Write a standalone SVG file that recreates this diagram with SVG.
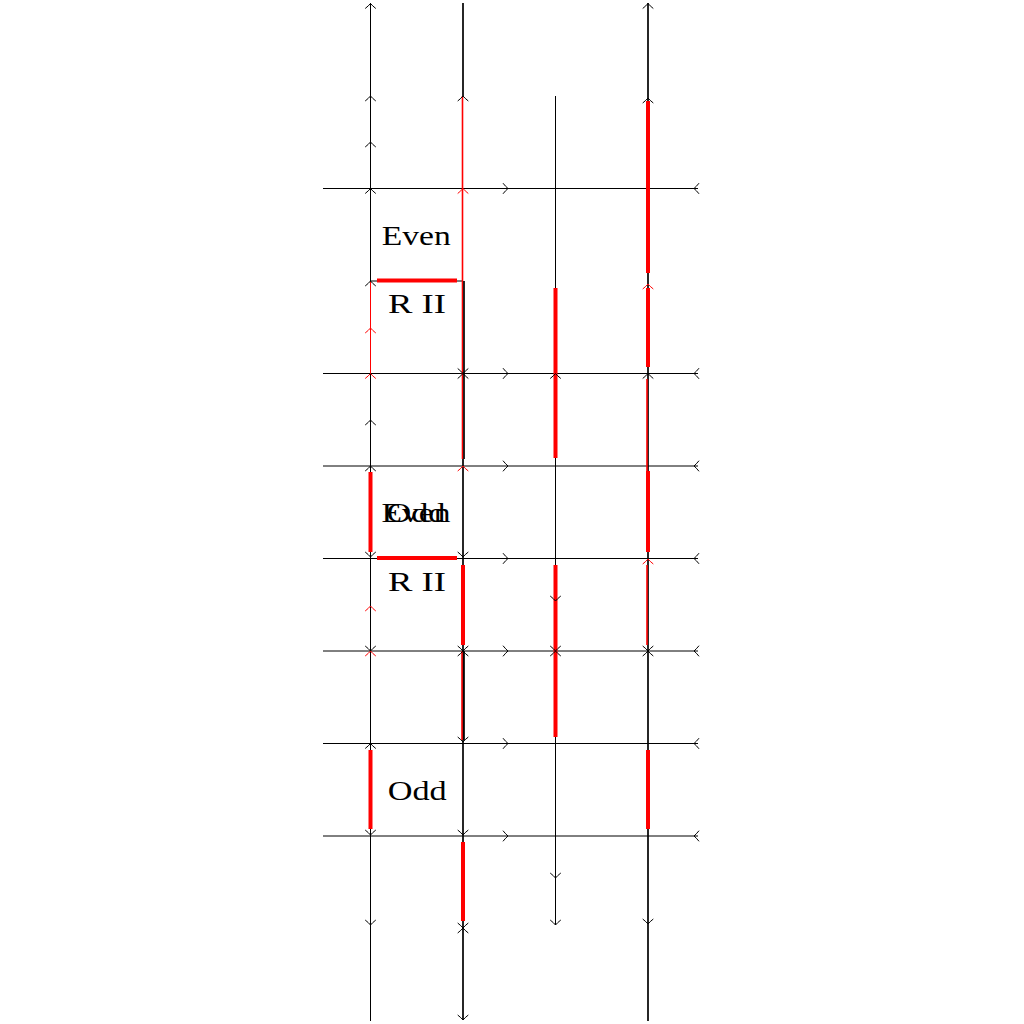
<svg xmlns="http://www.w3.org/2000/svg" xmlns:xlink="http://www.w3.org/1999/xlink" width="1024" height="1024" viewBox="0 0 1024 1024">
<style>
.k{stroke:#000;stroke-width:1;fill:none}
.kt{stroke:#000;stroke-width:1.7;fill:none}
.r{stroke:#f00;stroke-width:1;fill:none}
.rt{stroke:#f00;stroke-width:4;fill:none}
.rm{stroke:#f00;stroke-width:1.6;fill:none}
.lbl{font-family:"Liberation Serif","Times New Roman",serif;font-size:27px;fill:#000;text-anchor:middle}
</style>
<defs>
<path id="au" d="M-5.3,5 Q-1.8,2.2 0,0 Q1.8,2.2 5.3,5"/>
<path id="ad" d="M-5.3,-5 Q-1.8,-2.2 0,0 Q1.8,-2.2 5.3,-5"/>
<path id="ar" d="M-5,-5.3 Q-2.2,-1.8 0,0 Q-2.2,1.8 -5,5.3"/>
<path id="al" d="M5,-5.3 Q2.2,-1.8 0,0 Q2.2,1.8 5,5.3"/>
</defs>
<rect width="1024" height="1024" fill="#fff"/>
<g id="connectors">
<!-- horizontal rows -->
<g id="rows" class="k">
<line x1="323" y1="188.5" x2="698" y2="188.5"/>
<line x1="323" y1="373.5" x2="698" y2="373.5"/>
<line x1="323" y1="466" x2="698" y2="466"/>
<line x1="323" y1="558.5" x2="698" y2="558.5"/>
<line x1="323" y1="651" x2="698" y2="651"/>
<line x1="323" y1="743.5" x2="698" y2="743.5"/>
<line x1="323" y1="836" x2="698" y2="836"/>
</g>
<g id="row-arrows" class="k">
<use xlink:href="#ar" x="508" y="188.5"/><use xlink:href="#al" x="694" y="188.5"/>
<use xlink:href="#ar" x="508" y="373.5"/><use xlink:href="#al" x="694" y="373.5"/>
<use xlink:href="#ar" x="508" y="466"/><use xlink:href="#al" x="694" y="466"/>
<use xlink:href="#ar" x="508" y="558.5"/><use xlink:href="#al" x="694" y="558.5"/>
<use xlink:href="#ar" x="508" y="651"/><use xlink:href="#al" x="694" y="651"/>
<use xlink:href="#ar" x="508" y="743.5"/><use xlink:href="#al" x="694" y="743.5"/>
<use xlink:href="#ar" x="508" y="836"/><use xlink:href="#al" x="694" y="836"/>
</g>
<!-- column A -->
<g id="colA">
<line class="k" x1="370.5" y1="3" x2="370.5" y2="1021"/>
<line class="r" x1="370.5" y1="281" x2="370.5" y2="373.5"/>
<line class="k" x1="370.5" y1="281" x2="463" y2="281"/>
<line class="rt" x1="370.5" y1="472" x2="370.5" y2="552"/>
<line class="rt" x1="370.5" y1="750" x2="370.5" y2="829"/>
<use class="k" xlink:href="#au" x="370.5" y="3.5"/>
<use class="k" xlink:href="#au" x="370.5" y="96"/>
<use class="k" xlink:href="#au" x="370.5" y="142"/>
<use class="k" xlink:href="#au" x="370.5" y="188.5"/>
<use class="k" xlink:href="#au" x="370.5" y="281"/>
<use class="r" xlink:href="#au" x="370.5" y="328"/>
<use class="r" xlink:href="#au" x="370.5" y="373.5"/>
<use class="k" xlink:href="#au" x="370.5" y="420"/>
<use class="k" xlink:href="#au" x="370.5" y="466"/>
<use class="k" xlink:href="#ad" x="370.5" y="557"/>
<use class="r" xlink:href="#au" x="370.5" y="606"/>
<use class="k" xlink:href="#ad" x="370.5" y="651"/>
<use class="r" xlink:href="#au" x="370.5" y="651"/>
<use class="k" xlink:href="#au" x="370.5" y="743.5"/>
<use class="k" xlink:href="#ad" x="370.5" y="835"/>
<use class="k" xlink:href="#ad" x="370.5" y="925"/>
</g>
<!-- column B -->
<g id="colB">
<line class="kt" x1="463" y1="3" x2="463" y2="96"/>
<line class="rm" x1="462.5" y1="96" x2="462.5" y2="459"/>
<line class="kt" x1="464" y1="281" x2="464" y2="459"/>
<line class="kt" x1="463" y1="459" x2="463" y2="1020"/>
<line class="rt" x1="377" y1="280.5" x2="457" y2="280.5"/>
<line class="rt" x1="377" y1="558" x2="457" y2="558"/>
<line class="rt" x1="463" y1="565" x2="463" y2="645"/>
<line class="kt" x1="464" y1="651" x2="464" y2="740"/>
<line class="rm" x1="462" y1="651" x2="462" y2="740"/>
<line class="rt" x1="463" y1="842" x2="463" y2="921"/>
<use class="k" xlink:href="#au" x="463" y="96"/>
<use class="r" xlink:href="#au" x="463" y="188.5"/>
<use class="k" xlink:href="#ad" x="463" y="373.5"/>
<use class="k" xlink:href="#au" x="463" y="373.5"/>
<use class="r" xlink:href="#au" x="463" y="466"/>
<use class="k" xlink:href="#ad" x="463" y="557"/>
<use class="k" xlink:href="#ad" x="463" y="651"/>
<use class="k" xlink:href="#au" x="463" y="651"/>
<use class="k" xlink:href="#ad" x="463" y="742"/>
<use class="k" xlink:href="#ad" x="463" y="835"/>
<use class="k" xlink:href="#ad" x="463" y="928"/>
<use class="k" xlink:href="#au" x="463" y="928"/>
<use class="k" xlink:href="#ad" x="463" y="1020"/>
</g>
<!-- column C -->
<g id="colC">
<line class="k" x1="555.5" y1="96" x2="555.5" y2="925"/>
<line class="rt" x1="555.5" y1="288" x2="555.5" y2="458"/>
<line class="rt" x1="555.5" y1="565" x2="555.5" y2="737"/>
<use class="k" xlink:href="#au" x="555.5" y="373.5"/>
<use class="k" xlink:href="#ad" x="555.5" y="601"/>
<use class="k" xlink:href="#ad" x="555.5" y="651"/>
<use class="k" xlink:href="#au" x="555.5" y="651"/>
<use class="k" xlink:href="#ad" x="555.5" y="878"/>
<use class="k" xlink:href="#ad" x="555.5" y="925"/>
</g>
<!-- column D -->
<g id="colD">
<line class="kt" x1="648" y1="3" x2="648" y2="1021"/>
<line class="rt" x1="648" y1="101" x2="648" y2="273"/>
<line class="rt" x1="648" y1="288" x2="648" y2="367"/>
<line class="rm" x1="647" y1="379" x2="647" y2="471"/>
<line class="rt" x1="648" y1="471" x2="648" y2="552"/>
<line class="rm" x1="647" y1="565" x2="647" y2="645"/>
<line class="rt" x1="648" y1="750" x2="648" y2="829"/>
<use class="k" xlink:href="#au" x="648" y="3.5"/>
<use class="k" xlink:href="#au" x="648" y="98"/>
<use class="r" xlink:href="#au" x="648" y="284"/>
<use class="k" xlink:href="#au" x="648" y="373.5"/>
<use class="r" xlink:href="#au" x="648" y="559"/>
<use class="k" xlink:href="#ad" x="648" y="651"/>
<use class="k" xlink:href="#au" x="648" y="651"/>
<use class="k" xlink:href="#ad" x="648" y="924"/>
</g>
</g>
<g id="label-even-1"><text class="lbl" x="416.2" y="245" textLength="69" lengthAdjust="spacingAndGlyphs">Even</text></g>
<g id="label-rii-1"><text class="lbl" x="417" y="313" textLength="58" lengthAdjust="spacingAndGlyphs">R II</text></g>
<g id="label-even-2"><text class="lbl" x="416" y="522" textLength="69" lengthAdjust="spacingAndGlyphs">Even</text></g>
<g id="label-odd-1"><text class="lbl" x="416" y="522" textLength="59" lengthAdjust="spacingAndGlyphs">Odd</text></g>
<g id="label-rii-2"><text class="lbl" x="417" y="591" textLength="58" lengthAdjust="spacingAndGlyphs">R II</text></g>
<g id="label-odd-2"><text class="lbl" x="417.2" y="800" textLength="59" lengthAdjust="spacingAndGlyphs">Odd</text></g>
</svg>
